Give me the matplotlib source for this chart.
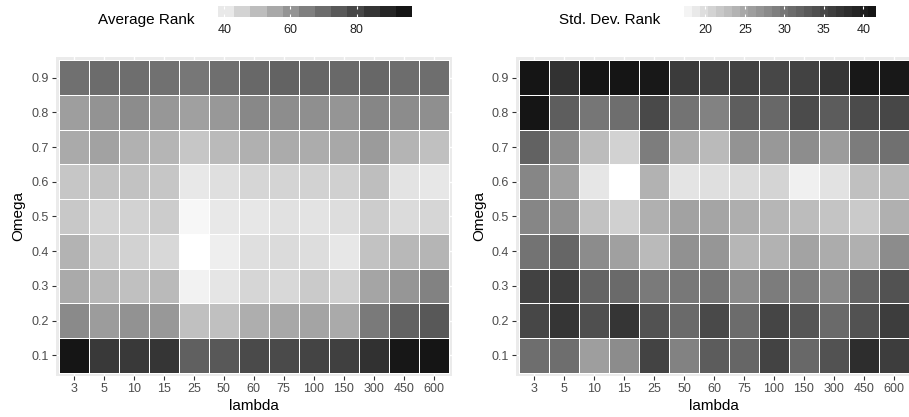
import numpy as np
import matplotlib
matplotlib.use("Agg")
import matplotlib.pyplot as plt
from matplotlib.colors import ListedColormap, Normalize

plt.rcParams['font.family'] = ['Liberation Sans', 'DejaVu Sans']

lambdas = ["3", "5", "10", "15", "25", "50", "60", "75", "100", "150", "300", "450", "600"]
omegas = ["0.1", "0.2", "0.3", "0.4", "0.5", "0.6", "0.7", "0.8", "0.9"]

# Average rank, rows = omega 0.1 ... 0.9, columns = lambdas
avg_rank = [
    [96.7, 84.9, 84.9, 86.1, 73.7, 76.0, 80.0, 80.0, 81.8, 83.0, 87.3, 96.2, 96.5],
    [62.3, 57.6, 60.2, 58.7, 48.5, 48.5, 53.0, 54.5, 55.5, 54.0, 66.6, 73.1, 76.0],
    [54.0, 50.5, 48.5, 50.0, 36.4, 39.7, 43.1, 42.6, 46.1, 44.6, 55.1, 59.2, 64.4],
    [51.8, 45.6, 44.1, 42.6, 33.3, 37.3, 41.1, 42.2, 41.6, 39.2, 48.0, 50.5, 51.2],
    [46.5, 43.6, 44.1, 45.6, 35.4, 38.8, 39.2, 40.7, 40.2, 41.6, 45.6, 42.2, 43.1],
    [47.0, 47.8, 48.0, 47.0, 38.8, 41.1, 43.1, 43.6, 44.1, 44.6, 49.0, 40.2, 39.2],
    [54.0, 56.1, 52.3, 51.2, 47.0, 50.0, 52.5, 53.8, 53.5, 54.5, 57.9, 51.5, 48.5],
    [57.1, 60.0, 62.0, 58.9, 56.6, 58.7, 62.8, 61.5, 61.0, 59.4, 63.4, 61.7, 61.0],
    [69.3, 70.4, 69.9, 69.0, 67.4, 69.6, 71.2, 72.9, 72.0, 71.0, 71.8, 70.1, 69.9],
]

# Std. dev. rank, rows = omega 0.1 ... 0.9, columns = lambdas
sd_rank = [
    [30.9, 30.9, 25.8, 27.7, 35.7, 28.7, 32.9, 31.8, 35.7, 31.6, 34.0, 38.4, 36.4],
    [35.2, 37.4, 34.3, 37.4, 34.0, 31.3, 35.0, 31.1, 35.5, 33.6, 31.3, 34.0, 36.4],
    [35.9, 36.4, 32.0, 31.3, 29.6, 29.8, 30.0, 27.7, 29.4, 29.2, 27.9, 32.0, 34.0],
    [30.3, 31.8, 27.7, 25.6, 23.0, 27.1, 26.6, 23.4, 23.8, 25.2, 24.4, 24.0, 27.7],
    [28.3, 27.1, 22.2, 20.8, 24.0, 25.4, 25.0, 24.2, 23.4, 22.8, 22.0, 21.4, 24.0],
    [28.3, 25.6, 18.7, 16.3, 23.8, 18.9, 19.4, 19.8, 20.4, 17.7, 19.1, 22.4, 23.2],
    [32.2, 27.5, 22.8, 20.6, 29.2, 24.4, 23.0, 26.9, 26.4, 27.5, 26.0, 29.4, 30.7],
    [41.6, 32.7, 30.0, 30.9, 35.0, 30.3, 28.7, 32.7, 31.6, 34.8, 32.9, 34.8, 35.2],
    [41.6, 37.8, 41.6, 41.6, 41.3, 36.7, 35.7, 35.9, 35.2, 35.9, 37.4, 41.3, 41.3],
]

avg_ticks = [40, 60, 80]
sd_ticks = [20, 25, 30, 35, 40]


def lab_grey_cmap(l_hi=100.0, l_lo=7.0, n=256):
    t = np.linspace(0, 1, n)
    L = l_hi - (l_hi - l_lo) * t
    Y = np.where(L > 8, ((L + 16) / 116.0) ** 3, L / 903.3)
    s = np.where(Y > 0.0031308, 1.055 * Y ** (1 / 2.4) - 0.055, 12.92 * Y)
    s = np.clip(s, 0, 1)
    return ListedColormap(np.stack([s, s, s, np.ones_like(s)], axis=1))


cmap = lab_grey_cmap()

W, H = 909, 417
fig = plt.figure(figsize=(W / 100, H / 100), dpi=100)
fig.patch.set_facecolor('white')


def fx(px):
    return px / W


def fy(py):
    return 1 - py / H


def heat(rect, data, cbar_rect, title, title_x, ticks, nbins):
    data = np.array(data)
    vmin, vmax = data.min(), data.max()
    norm = Normalize(vmin, vmax)
    ax = fig.add_axes(rect)
    ax.set_facecolor('#ebebeb')
    nx, ny = len(lambdas), len(omegas)
    ax.set_axisbelow(True)
    ax.grid(True, color='white', linewidth=1.0)
    xe = np.arange(nx + 1) - 0.5
    ye = np.arange(ny + 1) - 0.5
    ax.pcolormesh(xe, ye, data, cmap=cmap, norm=norm, edgecolors='white',
                  linewidth=0.6, zorder=2)
    ax.set_xlim(-0.61, nx - 0.39)
    ax.set_ylim(-0.59, ny - 0.41)
    ax.set_xticks(np.arange(nx))
    ax.set_xticklabels(lambdas)
    ax.set_yticks(np.arange(ny))
    ax.set_yticklabels(omegas)
    for s in ax.spines.values():
        s.set_visible(False)
    ax.tick_params(axis='both', length=3, width=0.8, color='#333333',
                   labelsize=9, labelcolor='#4d4d4d', pad=2)
    ax.set_xlabel('lambda', fontsize=11, labelpad=3, color='black')
    ax.set_ylabel('Omega', fontsize=11, labelpad=4, color='black')

    # colour bar
    cax = fig.add_axes(cbar_rect)
    edges = np.linspace(vmin, vmax, nbins + 1)
    vals = np.linspace(vmin, vmax, nbins)
    cax.pcolormesh(edges, [0, 1], vals[None, :], cmap=cmap, norm=norm)
    cax.set_xlim(vmin, vmax)
    cax.set_ylim(0, 1)
    cax.set_yticks([])
    cax.set_xticks(ticks)
    cax.set_xticklabels([str(t) for t in ticks])
    for s in cax.spines.values():
        s.set_visible(False)
    cax.tick_params(axis='x', direction='in', length=2.3, width=0.8,
                    color='white', top=True, bottom=True, labelsize=9,
                    labelcolor='#222222', pad=5)
    fig.text(title_x, fy(20), title, fontsize=11, ha='right', va='center',
             color='black')
    return ax


heat([fx(55.5), fy(376), fx(452) - fx(55.5), fy(57) - fy(376)], avg_rank,
     [fx(202), fy(17), fx(412) - fx(202), fy(6) - fy(17)],
     'Average Rank', fx(195), avg_ticks, 13)

heat([fx(516), fy(376), fx(912) - fx(516), fy(57) - fy(376)], sd_rank,
     [fx(676), fy(17), fx(876) - fx(676), fy(6) - fy(17)],
     'Std. Dev. Rank', fx(660), sd_ticks, 25)

fig.savefig('out.png', dpi=100, facecolor='white')
